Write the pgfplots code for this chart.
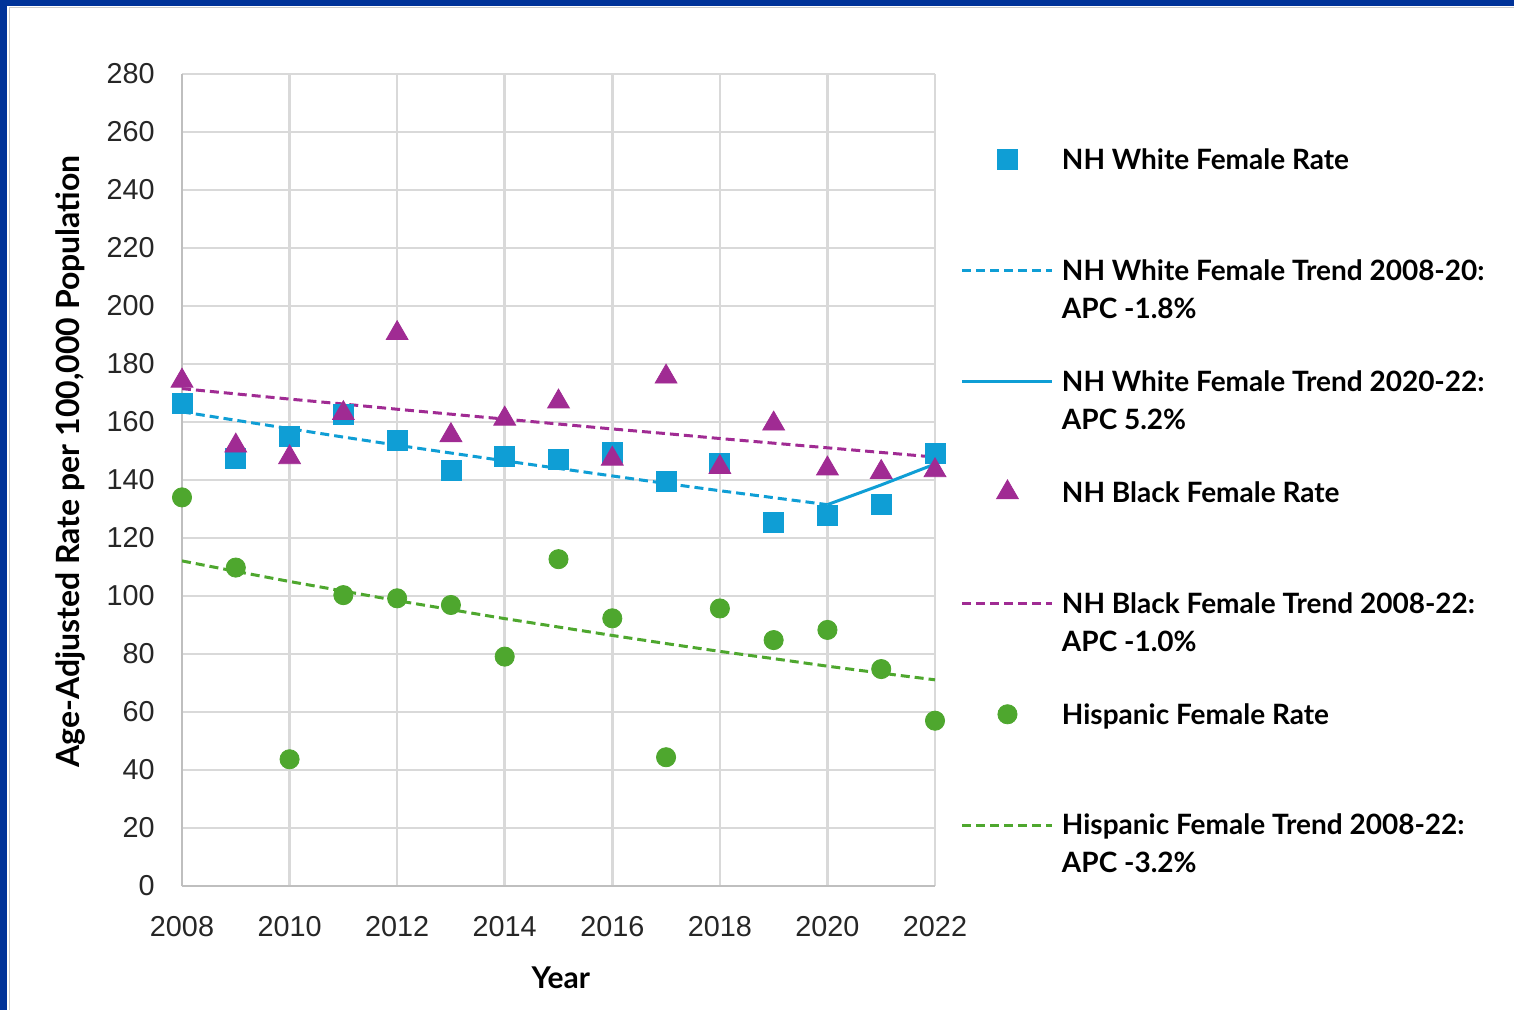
\documentclass[border=0pt]{standalone}
\usepackage{pgfplots}
\pgfplotsset{compat=1.18}
\usepackage{fontspec}
\setmainfont{Liberation Sans}
\newfontfamily\tickfont{Liberation Sans}
\newfontfamily\lblfont{Lato}
\definecolor{cblue}{HTML}{0F9ED5}
\definecolor{cpurple}{HTML}{A02B93}
\definecolor{cgreen}{HTML}{4EA72E}
\definecolor{gridgray}{HTML}{D9D9D9}
\definecolor{axgray}{HTML}{BFBFBF}
\definecolor{frameblue}{HTML}{003399}
\newcommand\lgt[2]{\vtop{\baselineskip=19bp\hbox{\strut #1}\hbox{\strut #2}}}
\begin{document}
\begin{tikzpicture}
\useasboundingbox (0,0) rectangle (757bp,505bp);
\fill[white] (0,0) rectangle (757bp,505bp);
\draw[black!20, line width=0.7bp] (4.6bp,-5bp) -- (4.6bp,501.2bp) -- (800bp,501.2bp);
\fill[frameblue] (0,0) rectangle (3.5bp,505bp);
\fill[frameblue] (0,502bp) rectangle (757bp,505bp);
\begin{axis}[
  at={(91bp,62bp)}, anchor=south west,
  scale only axis, width=376.5bp, height=406bp,
  xmin=2008, xmax=2022, ymin=0, ymax=280,
  xtick={2008,2010,...,2022}, ytick={0,20,...,280},
  axis x line=bottom, axis y line=left,
  axis line style={draw=axgray, line width=1.3bp, -},
  major tick length=0pt,
  grid=major, major grid style={draw=gridgray, line width=1.3bp},
  /pgf/number format/1000 sep={},
  /pgf/number format/assume math mode=true,
  tick label style={font=\tickfont\fontsize{14.4bp}{17bp}\selectfont, text=black!85, inner sep=0pt},
  yticklabel style={anchor=east, xshift=-13.5bp},
  xticklabel style={anchor=north, yshift=-15bp},
  xlabel={Year}, ylabel={Age-Adjusted Rate per 100,000 Population},
  every axis x label/.style={at={(axis description cs:0.503,-0.113)}, anchor=center,
    font=\lblfont\bfseries\fontsize{15bp}{18bp}\selectfont, text=black},
  every axis y label/.style={at={(axis description cs:-0.1487,0.523)}, anchor=center, rotate=90,
    font=\lblfont\bfseries\fontsize{16bp}{19bp}\selectfont, text=black},
  legend image code/.code={\draw[mark repeat=2,mark phase=2,#1] plot coordinates {(0bp,4.9bp)(22.5bp,4.9bp)(45bp,4.9bp)};},
  legend style={draw=none, fill=none, at={(axis description cs:1.0345,0.9113)}, anchor=north west,
    inner sep=0pt, outer sep=0pt, row sep=42.2bp, column sep=4bp,
    nodes={inner sep=0pt, anchor=base west, text=black, font=\lblfont\bfseries\fontsize{14bp}{16.8bp}\selectfont}},
  dtrend/.style={no marks, line width=1.5bp, dash pattern=on 4.5bp off 2.5bp},
]
\addplot[only marks, mark=square*, mark size=5bp, color=cblue] coordinates {
(2008,166.4) (2009,147.6) (2010,154.9) (2011,162.6) (2012,153.8) (2013,143.3) (2014,148.0)
(2015,147.2) (2016,149.4) (2017,139.6) (2018,145.6) (2019,125.3) (2020,127.7) (2021,131.7) (2022,149.0)};
\addlegendentry{\lgt{NH White Female Rate}{}}
\addplot[dtrend, color=cblue] coordinates {
(2008,163.5) (2009,160.6) (2010,157.7) (2011,154.8) (2012,152.0) (2013,149.3) (2014,146.6)
(2015,144.0) (2016,141.4) (2017,138.8) (2018,136.3) (2019,133.9) (2020,131.5)};
\addlegendentry{\lgt{NH White Female Trend 2008-20:}{APC -1.8\%}}
\addplot[no marks, line width=1.5bp, color=cblue] coordinates {(2020,131.5) (2021,138.3) (2022,145.5)};
\addlegendentry{\lgt{NH White Female Trend 2020-22:}{APC 5.2\%}}
\addplot[only marks, mark=triangle*, mark size=6.3bp, color=cpurple] coordinates {
(2008,174.2) (2009,151.8) (2010,147.8) (2011,163.0) (2012,190.6) (2013,155.4) (2014,161.1)
(2015,167.0) (2016,147.3) (2017,175.6) (2018,144.4) (2019,159.4) (2020,143.9) (2021,142.7) (2022,143.3)};
\addlegendentry{\lgt{NH Black Female Rate}{}}
\addplot[dtrend, color=cpurple] coordinates {
(2008,171.5) (2009,169.7) (2010,167.9) (2011,166.2) (2012,164.4) (2013,162.7) (2014,161.0)
(2015,159.3) (2016,157.6) (2017,156.0) (2018,154.3) (2019,152.7) (2020,151.1) (2021,149.5) (2022,147.9)};
\addlegendentry{\lgt{NH Black Female Trend 2008-22:}{APC -1.0\%}}
\addplot[only marks, mark=*, mark size=4.8bp, color=cgreen] coordinates {
(2008,134.0) (2009,109.8) (2010,43.7) (2011,100.3) (2012,99.2) (2013,96.9) (2014,79.1)
(2015,112.7) (2016,92.3) (2017,44.4) (2018,95.7) (2019,84.8) (2020,88.3) (2021,74.8) (2022,57.0)};
\addlegendentry{\lgt{Hispanic Female Rate}{}}
\addplot[dtrend, color=cgreen] coordinates {
(2008,112.1) (2009,108.5) (2010,105.0) (2011,101.7) (2012,98.4) (2013,95.3) (2014,92.2)
(2015,89.3) (2016,86.4) (2017,83.6) (2018,80.9) (2019,78.4) (2020,75.8) (2021,73.4) (2022,71.1)};
\addlegendentry{\lgt{Hispanic Female Trend 2008-22:}{APC -3.2\%}}
\end{axis}
\end{tikzpicture}
\end{document}
